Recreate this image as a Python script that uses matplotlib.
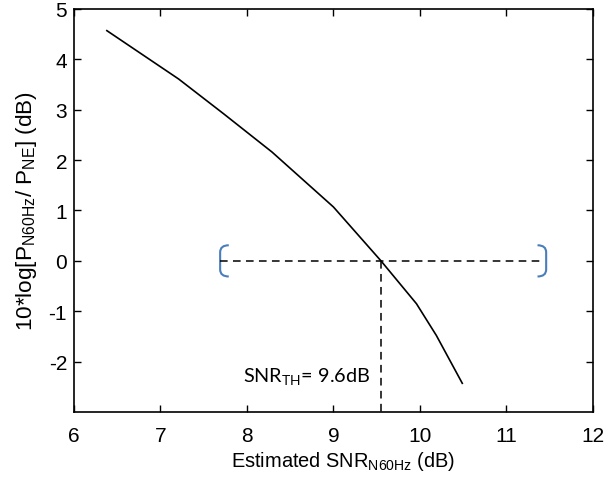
import matplotlib
matplotlib.use("Agg")
import matplotlib.pyplot as plt
from matplotlib.path import Path
from matplotlib.patches import PathPatch

plt.rcParams['font.family'] = ['Liberation Sans', 'DejaVu Sans']
plt.rcParams['axes.unicode_minus'] = False

# curve
snr = [6.38, 7.21, 7.73, 8.29, 9.0, 9.55, 9.96, 10.19, 10.49]
ratio = [4.57, 3.61, 2.92, 2.16, 1.07, 0.0, -0.85, -1.48, -2.43]

snr_th = 9.55
span_lo, span_hi = 7.69, 11.46

fig = plt.figure(figsize=(6.09, 4.89), dpi=100)
ax = fig.add_axes([0.1215, 0.1554, 0.852, 0.8242])

ax.plot(snr, ratio, color='black', lw=1.2)

# threshold markers
ax.plot([span_lo, span_hi - 0.04], [0, 0], color='black', lw=1.1, ls=(0, (5, 3.5)))
ax.plot([snr_th, snr_th], [0, -3], color='black', lw=1.1, ls=(0, (5, 3.5)))


def bracket(xv, d, h=0.31, w=0.1, r=0.14):
    # rounded bracket in data units, d=+1 ends point right, d=-1 ends point left
    verts = [(xv + d * w, h), (xv, h), (xv, h - r),
             (xv, -h + r), (xv, -h), (xv + d * w, -h)]
    codes = [Path.MOVETO, Path.CURVE3, Path.CURVE3,
             Path.LINETO, Path.CURVE3, Path.CURVE3]
    return PathPatch(Path(verts, codes), fill=False, edgecolor='#4a7ebb', lw=1.5)


ax.add_patch(bracket(span_lo, 1))
ax.add_patch(bracket(span_hi, -1))

ax.text(7.95, -2.3, 'SNR$_\\mathregular{TH}$= 9.6dB', family='Lato', fontsize=14.3,
        va='center', ha='left')

ax.set_xlim(6, 12)
ax.set_ylim(-3, 5)
ax.set_xticks([6, 7, 8, 9, 10, 11, 12])
ax.set_yticks([-2, -1, 0, 1, 2, 3, 4, 5])
ax.tick_params(direction='in', top=True, right=True, length=5, width=1,
               labelsize=15)
ax.tick_params(axis='x', pad=10)
ax.tick_params(axis='y', pad=5)
for s in ax.spines.values():
    s.set_linewidth(1.2)

ax.set_xlabel('Estimated SNR$_\\mathregular{N60Hz}$ (dB)', fontsize=14.4)
ax.xaxis.set_label_coords(0.519, -0.092)
ax.set_ylabel('10*log[P$_\\mathregular{N60Hz}$/ P$_\\mathregular{NE}$] (dB)', fontsize=16.2, labelpad=7)

fig.savefig('out.png', dpi=100)
